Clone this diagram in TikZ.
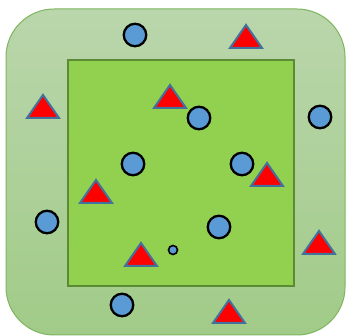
\documentclass[tikz,border=0pt]{standalone}
\begin{document}
\begin{tikzpicture}[x=1pt,y=-1pt,
  dot/.style={circle,draw=black,line width=2.3pt,fill=dotblue,inner sep=0pt,minimum size=22.5pt},
  smalldot/.style={circle,draw=black,line width=1.6pt,fill=dotblue,inner sep=0pt,minimum size=9pt},
  tri/.style={draw=triedge,line width=2pt,fill=red,line join=miter}]
\definecolor{dotblue}{HTML}{5B9BD5}
\definecolor{triedge}{HTML}{41719C}
\definecolor{outertop}{HTML}{BAD6AC}
\definecolor{outerbot}{HTML}{A1CB88}
\definecolor{outeredge}{HTML}{7FB55E}
\definecolor{innerfill}{HTML}{92D050}
\definecolor{inneredge}{HTML}{5B8B33}
\useasboundingbox (0,0) rectangle (346,336);
\shade[top color=outertop,bottom color=outerbot,draw=outeredge,line width=1pt,rounded corners=48pt]
  (6,9) rectangle (345,335);
\draw[fill=innerfill,draw=inneredge,line width=2.5pt] (68,60) rectangle (294,286);
% circles
\node[dot] (c1) at (135,35) {};
\node[dot] (c2) at (199,118) {};
\node[dot] (c3) at (320,117) {};
\node[dot] (c4) at (133,164) {};
\node[dot] (c5) at (242,164) {};
\node[dot] (c6) at (47,222) {};
\node[dot] (c7) at (219,227) {};
\node[smalldot] (c8) at (173,250) {};
\node[dot] (c9) at (122,305) {};
% triangles (apex x, apex y)
\foreach \x/\y in {43/95, 246/25, 170/85, 267/163, 96/180, 141/243, 319/231, 229/300}
  \draw[tri] (\x,\y) -- (\x+16,\y+23) -- (\x-16,\y+23) -- cycle;
\end{tikzpicture}
\end{document}
